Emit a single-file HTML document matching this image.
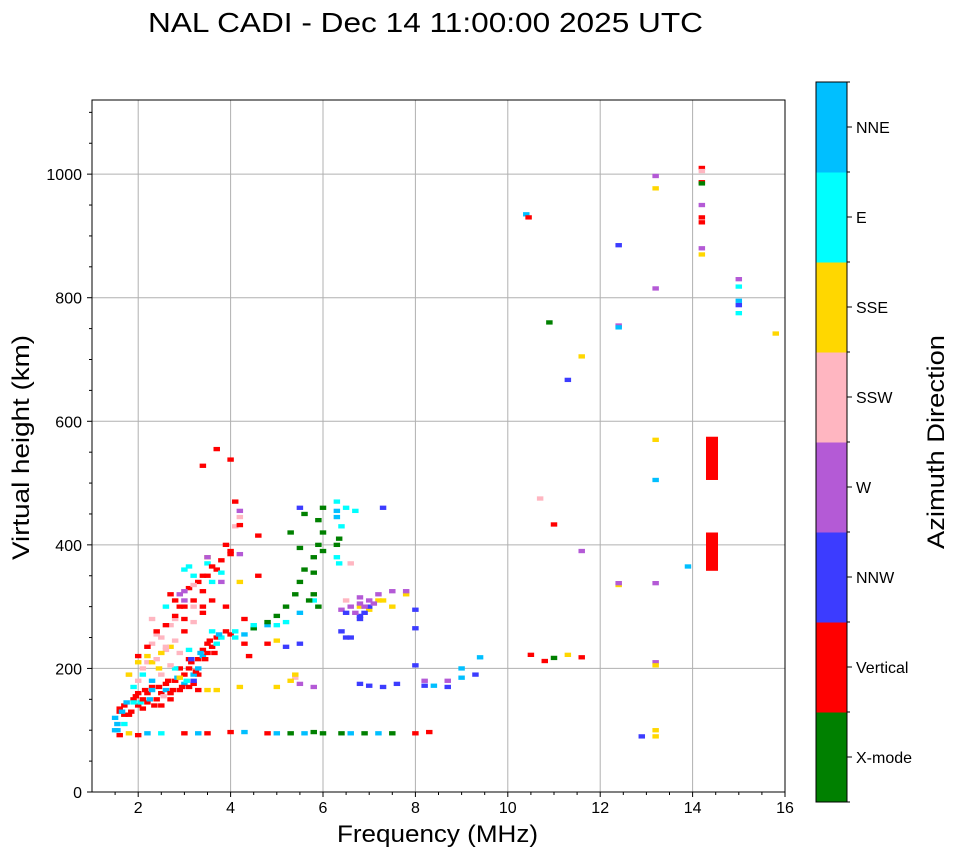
<!DOCTYPE html>
<html><head><meta charset="utf-8"><style>
html,body{margin:0;padding:0;background:#fff;}
svg{display:block;font-family:"Liberation Sans","DejaVu Sans",sans-serif;}
</style></head><body>
<svg id="chart" width="958" height="857" viewBox="0 0 958 857" xmlns="http://www.w3.org/2000/svg">
<text x="148" y="32" font-size="28" textLength="555" lengthAdjust="spacingAndGlyphs" fill="#000">NAL CADI - Dec 14 11:00:00 2025 UTC</text>
<g id="grid"></g>
<g id="marks"></g>
<rect x="92" y="100" width="693" height="692" fill="none" stroke="#000" stroke-width="1"/>
<g id="axes"></g>
<text x="337" y="842" font-size="24" textLength="201" lengthAdjust="spacingAndGlyphs">Frequency (MHz)</text>
<text transform="translate(29,560) rotate(-90)" font-size="24" textLength="225" lengthAdjust="spacingAndGlyphs">Virtual height (km)</text>
<g id="cbar"></g>
<text transform="translate(944,549) rotate(-90)" font-size="24" textLength="214" lengthAdjust="spacingAndGlyphs">Azimuth Direction</text>
</svg>
<script>
const dirLabels=["X-mode","Vertical","NNW","W","SSW","SSE","E","NNE"];
const dirColors=["#008000","#ff0000","#3c3cff","#b45ad6","#ffb6c1","#ffd700","#00ffff","#00bfff"];
const xTicks=[2,4,6,8,10,12,14,16];
const yTicks=[0,200,400,600,800,1000];
const freq=[1.6,1.7,1.8,1.9,2.0,2.0,2.1,2.2,2.3,2.4,2.5,2.6,2.7,2.8,2.9,3.0,3.1,3.2,3.3,3.4,3.5,3.6,3.7,3.9,4.0,3.3,2.5,2.2,2.9,3.1,
1.5,1.5,1.7,1.9,2.1,2.3,2.6,2.8,3.0,3.2,3.1,3.4,3.6,3.8,4.1,3.0,3.1,3.2,3.5,4.5,4.8,5.0,5.2,5.5,5.8,6.3,6.3,6.35,6.4,6.3,
1.8,2.0,2.2,2.3,2.4,2.5,2.6,2.7,2.8,2.3,2.9,3.2,4.1,4.2,5.4,6.5,6.6,10.7,
1.8,2.0,2.2,2.5,2.7,3.5,3.7,3.5,4.2,4.2,5.0,5.3,5.4,5.0,6.8,7.0,7.2,7.5,7.8,
2.9,3.0,3.5,3.8,4.2,4.2,5.5,5.8,6.6,6.8,7.0,7.2,7.5,7.8,8.2,6.8,
3.2,5.5,5.2,6.4,6.5,6.8,6.9,7.0,6.8,7.0,7.3,7.6,8.0,8.0,8.0,8.2,5.5,6.6,7.3,
4.5,4.8,5.0,5.2,5.4,5.5,5.6,5.8,5.9,6.0,5.9,6.0,5.7,5.8,5.6,5.3,5.5,5.8,6.0,5.9,6.3,6.35,
2.7,2.9,3.1,3.3,3.5,3.7,3.9,4.0,3.0,3.4,3.6,3.9,4.2,4.1,3.7,4.0,3.4,4.6,4.3,4.8,4.4,4.6,4.3,
1.6,1.8,2.0,2.2,2.5,3.0,3.3,3.5,4.0,4.3,4.8,5.0,5.3,5.6,5.8,6.0,6.4,6.6,6.9,7.2,7.5,8.0,8.3,
8.7,8.7,9.0,9.0,9.3,9.4,8.4,10.5,10.8,11.0,11.3,11.6,11.0,11.6,10.4,10.45,10.9,11.3,11.6,12.4,12.4,12.4,12.4,12.4,13.2,13.2,13.2,13.2,13.2,13.2,13.2,13.2,13.2,13.2,12.9,13.9,14.2,14.2,14.2,14.2,14.2,14.2,14.2,14.2,14.2,15.0,15.0,15.0,15.0,15.0,15.8,
1.6,1.7,1.75,1.85,1.95,2.05,2.15,2.25,2.35,2.45,2.55,2.65,2.75,2.85,2.95,3.05,3.15,3.25,3.35,3.45,3.55,3.65,3.75,2.1,2.3,2.5,2.7,2.9,3.1,3.3,3.5,3.7,2.4,2.6,2.8,3.0,3.2,3.4,2.0,2.2,2.4,2.6,2.8,3.0,3.2,3.4,3.6,3.8,2.6,2.8,3.0,3.2,3.4,3.6,3.8,4.0,1.55,1.65,1.9,2.1,2.3,2.7,3.3,4.1,4.3,4.5,6.4,6.7,6.9,7.1,7.3,6.3,6.5,6.7,1.55,2.45,3.15,6.5,6.8];
const height=[130,140,125,150,140,160,135,145,170,150,160,175,150,180,165,190,200,175,215,230,240,235,250,260,255,190,140,160,200,215,
120,100,110,170,190,180,165,200,175,190,230,220,260,250,260,360,365,350,370,265,270,270,275,290,310,445,380,370,430,470,
190,180,210,240,255,250,230,270,280,280,225,300,430,445,185,310,370,475,
190,210,220,225,235,165,165,380,340,170,170,180,190,245,300,295,310,300,320,
320,310,380,340,455,385,175,170,300,305,310,320,325,325,180,315,
180,240,235,260,250,285,290,300,175,172,170,175,295,265,205,172,460,250,460,
265,275,285,300,320,340,360,380,400,420,440,460,310,320,450,420,395,355,390,300,400,410,
320,300,330,340,350,360,400,390,280,300,310,300,432,470,555,538,528,415,280,240,220,350,240,
92,95,92,95,95,95,95,95,97,97,95,95,95,95,97,95,95,95,95,95,95,95,97,
170,180,185,200,190,218,172,222,212,217,222,218,433,390,935,930,760,667,705,885,755,752,335,338,997,977,815,570,505,338,210,205,100,90,90,365,1010,1005,987,985,950,930,922,880,870,830,818,795,788,775,742,
135,125,145,130,155,145,165,150,140,170,155,180,165,185,170,180,210,195,225,215,245,225,255,200,210,190,205,185,170,200,225,240,215,235,245,260,275,290,220,235,260,270,285,300,310,325,340,355,300,310,325,335,350,365,375,385,110,130,145,150,165,160,165,250,255,270,295,290,300,305,310,455,460,455,100,200,215,290,280];
const dir=[1,1,1,1,1,1,1,1,1,1,1,1,1,1,1,1,1,1,1,1,1,1,1,1,1,1,1,1,1,1,
7,7,6,6,6,7,7,6,7,7,6,7,6,6,6,6,6,6,6,6,7,6,6,7,6,7,6,6,6,6,
4,4,4,4,4,4,4,4,4,4,4,4,4,4,4,4,4,4,
5,5,5,5,5,5,5,5,5,5,5,5,5,5,5,5,5,5,5,
3,3,3,3,3,3,3,3,3,3,3,3,3,3,3,3,
2,2,2,2,2,2,2,2,2,2,2,2,2,2,2,2,2,2,2,
0,0,0,0,0,0,0,0,0,0,0,0,0,0,0,0,0,0,0,0,0,0,
1,1,1,1,1,1,1,1,1,1,1,1,1,1,1,1,1,1,1,1,1,1,1,
1,5,1,7,6,1,7,1,1,7,1,7,0,7,0,0,0,7,0,7,0,1,1,
2,3,7,7,2,7,7,1,1,0,5,1,1,3,7,1,0,2,5,2,3,7,5,3,3,5,3,5,7,3,3,5,5,5,2,7,1,4,1,0,3,1,1,3,5,3,6,7,2,6,5,
1,1,7,1,1,6,1,7,1,1,4,1,1,7,1,6,1,1,7,1,1,1,7,4,5,4,4,5,1,7,1,6,4,4,4,1,4,1,1,1,1,1,1,1,1,1,6,6,6,1,3,4,1,1,1,1,7,7,6,1,7,1,1,6,7,6,3,3,3,3,5,7,6,6,7,5,2,2,2];
const blockFreq=[14.42,14.42];
const blockLo=[505,358];
const blockHi=[575,420];

const NS="http://www.w3.org/2000/svg";
const X0=92,X1=785,Y0=792,Y1=100,FMIN=1,FMAX=16,HMIN=0,HMAX=1120;
function sx(f){return X0+(f-FMIN)/(FMAX-FMIN)*(X1-X0);}
function sy(h){return Y0-(h-HMIN)/(HMAX-HMIN)*(Y0-Y1);}
function mk(tag,attrs,parent){const e=document.createElementNS(NS,tag);for(const k in attrs)e.setAttribute(k,attrs[k]);parent.appendChild(e);return e;}
const grid=document.getElementById('grid'),axes=document.getElementById('axes'),marks=document.getElementById('marks'),cbar=document.getElementById('cbar');
xTicks.forEach(t=>{
  const x=sx(t);
  if(t<FMAX){const g=mk('line',{x1:x,x2:x,y1:Y1,y2:Y0,stroke:'#b0b0b0','stroke-width':1},grid);
  
  }
  const tk=mk('line',{x1:x,x2:x,y1:Y0,y2:Y0+5,stroke:'#000'},axes);
  
  
  const lb=mk('text',{x:x,y:Y0+21,'font-size':16,'text-anchor':'middle'},axes);lb.textContent=t;
  
  
});
for(let f=1.5;f<16;f+=0.5){if(Number.isInteger(f/2))continue;mk('line',{x1:sx(f),x2:sx(f),y1:Y0,y2:Y0+3,stroke:'#000'},axes);}
yTicks.forEach(t=>{
  const y=sy(t);
  if(t>0){const g=mk('line',{x1:X0,x2:X1,y1:y,y2:y,stroke:'#b0b0b0','stroke-width':1},grid);
  
  }
  const tk=mk('line',{x1:X0-5,x2:X0,y1:y,y2:y,stroke:'#000'},axes);
  
  
  const lb=mk('text',{x:X0-10,y:y+6,'font-size':16,'text-anchor':'end'},axes);lb.textContent=t;
  
  
});
for(let h=50;h<HMAX;h+=50){if(h%200===0)continue;mk('line',{x1:X0-3,x2:X0,y1:sy(h),y2:sy(h),stroke:'#000'},axes);}
const CW=0.14,CH=7;
for(let i=0;i<freq.length;i++){
  const r=mk('rect',{x:sx(freq[i]-CW/2),y:sy(height[i]+CH/2),width:sx(freq[i]+CW/2)-sx(freq[i]-CW/2),height:sy(height[i]-CH/2)-sy(height[i]+CH/2),fill:dirColors[dir[i]]},marks);
  
  
}
for(let i=0;i<blockFreq.length;i++){
  const r=mk('rect',{x:sx(blockFreq[i]-0.13),y:sy(blockHi[i]),width:sx(blockFreq[i]+0.13)-sx(blockFreq[i]-0.13),height:sy(blockLo[i])-sy(blockHi[i]),fill:dirColors[1]},marks);
  
  
}
const CX=816,CWd=31,CT=82,CB=802,seg=(CB-CT)/dirLabels.length;
dirLabels.forEach((l,i)=>{
  const y=CB-(i+1)*seg;
  const r=mk('rect',{x:CX,y:y,width:CWd,height:seg+0.5,fill:dirColors[i]},cbar);
  
  
  mk('line',{x1:CX+CWd,x2:CX+CWd+5,y1:y+seg/2,y2:y+seg/2,stroke:'#000'},cbar);
  mk('line',{x1:CX+CWd,x2:CX+CWd+3,y1:y,y2:y,stroke:'#000'},cbar);
  const t=mk('text',{x:CX+CWd+9,y:y+seg/2+6,'font-size':16},cbar);t.textContent=l;
  
  
});
mk('line',{x1:CX+CWd,x2:CX+CWd+3,y1:CB,y2:CB,stroke:'#000'},cbar);
mk('rect',{x:CX,y:CT,width:CWd,height:CB-CT,fill:'none',stroke:'#000'},cbar);
</script>
</body></html>
